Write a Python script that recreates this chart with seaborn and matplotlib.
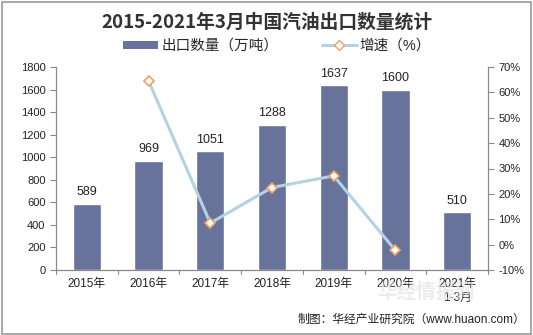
import numpy as np
import pandas as pd
import matplotlib
matplotlib.use("Agg")
import matplotlib.pyplot as plt
from matplotlib.lines import Line2D
from matplotlib.patches import Patch, Rectangle
import seaborn as sns

categories = ["2015年", "2016年", "2017年", "2018年", "2019年", "2020年", "2021年\n1-3月"]
export_volume = [589, 969, 1051, 1288, 1637, 1600, 510]
growth_pct = [np.nan, 64.5, 8.5, 22.5, 27.1, -2.3, np.nan]

sns.set_theme(style="white")
plt.rcParams['font.family'] = ['Liberation Sans', 'Noto Sans CJK SC', 'DejaVu Sans']

BAR = "#68739b"
LINE = "#b4d2e3"
MARK = "#f0a060"
GREY = "#888888"

df = pd.DataFrame({"cat": categories, "vol": export_volume})

fig = plt.figure(figsize=(5.33, 3.35), dpi=100)
ax = fig.add_axes([56/533, 1-270/335, (488-56)/533, (270-67)/335])

sns.barplot(data=df, x="cat", y="vol", color=BAR, width=0.46, ax=ax, saturation=1)
ax.set_ylim(0, 1800)
ax.set_yticks(range(0, 1801, 200))
ax.set_xlabel("")
ax.set_ylabel("")
for i, v in enumerate(export_volume):
    ax.text(i, v + 50, str(v), ha="center", va="bottom", fontsize=9, color="#222222")

ax2 = ax.twinx()
xpos = np.arange(len(categories))
ax2.plot(xpos, growth_pct, color=LINE, lw=2.2, marker="D", markersize=5.5,
         markerfacecolor="white", markeredgecolor=MARK, markeredgewidth=1.2)
ax2.set_ylim(-10, 70)
ax2.set_yticks(range(-10, 71, 10))
ax2.set_yticklabels([f"{t}%" for t in range(-10, 71, 10)])

for a in (ax, ax2):
    a.spines["top"].set_visible(False)
    for s in ["left", "right", "bottom"]:
        a.spines[s].set_color(GREY)
        a.spines[s].set_linewidth(0.8)
    a.tick_params(axis="both", labelsize=8, colors="#222222", length=4, width=0.8, color=GREY)
    a.grid(False)
ax.tick_params(axis="x", length=0, pad=6, labelsize=8.5)
ax.set_xlim(-0.5, len(categories) - 0.5)
ax.tick_params(axis="y", direction="out", left=True)
ax2.tick_params(axis="y", direction="out", right=True)
for b in np.arange(-0.5, len(categories), 1.0):
    ax.plot([b, b], [0, -0.018], transform=ax.get_xaxis_transform(), color=GREY, lw=0.8, clip_on=False)

fig.text(0.5, 1-22/335, "2015-2021年3月中国汽油出口数量统计", ha="center", va="center",
         fontsize=13.5, fontweight="bold", color="#333333",
         family=['Noto Sans CJK SC', 'DejaVu Sans'])

handles = [Patch(facecolor=BAR, edgecolor="none"),
           Line2D([0], [0], color=LINE, lw=2.2, marker="D", markersize=5,
                  markerfacecolor="white", markeredgecolor=MARK)]
fig.legend(handles, ["出口数量（万吨）", "增速（%）"], loc="center", bbox_to_anchor=(0.52, 1-46/335),
           ncol=2, frameon=False, fontsize=10.5, handlelength=2.4, handleheight=0.45,
           columnspacing=3.0, handletextpad=0.2)

fig.text(0.80, 1-292/335, "华经情报网", ha="center", va="center", fontsize=14,
         color="#e0e0e0", fontweight="bold", alpha=0.6, zorder=0)
fig.text(525/533, 1-320/335, "制图：华经产业研究院（www.huaon.com）", ha="right", va="center",
         fontsize=8.5, color="#222222")

fig.patches.append(Rectangle((2/533, 1/335), 529/533, 332/335, transform=fig.transFigure,
                             fill=False, edgecolor="#999999", lw=1.2))

fig.savefig("out.png", dpi=100)
